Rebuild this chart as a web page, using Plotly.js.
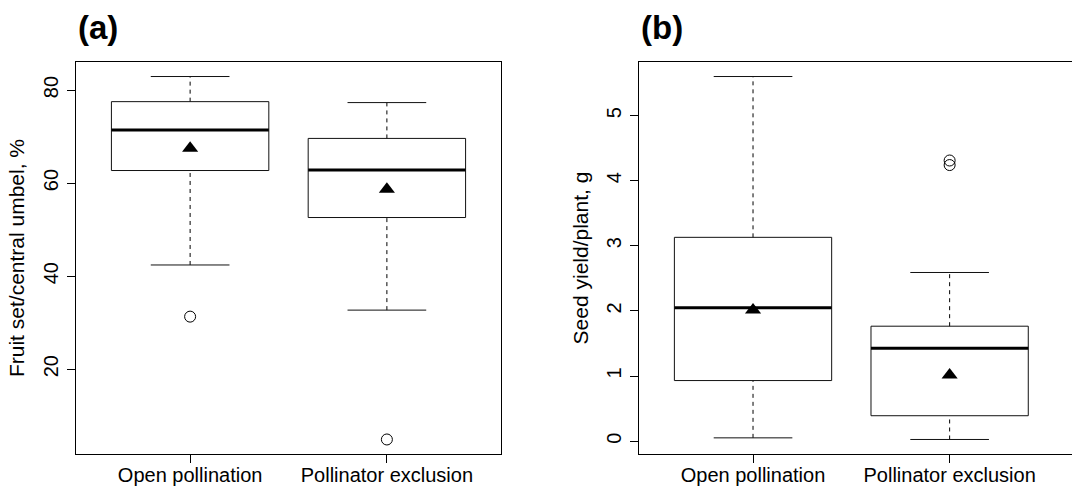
<!DOCTYPE html>
<html>
<head>
<meta charset="utf-8">
<script src="https://cdn.plot.ly/plotly-3.0.1.min.js"></script>
<style>
html,body{margin:0;padding:0;overflow:hidden;background:#fff;}
#chart{width:1085px;height:489px;}
</style>
</head>
<body>
<div id="chart"></div>
<script>
// ---- data ----
const groups = ['Open pollination', 'Pollinator exclusion'];

// (a) Fruit set / central umbel, %
const fruitQ1 = [62.7, 52.6];
const fruitMedian = [71.4, 62.8];
const fruitQ3 = [77.5, 69.6];
const fruitLowerWhisker = [42.4, 32.7];
const fruitUpperWhisker = [82.9, 77.3];
const fruitMean = [67.5, 58.7];
const fruitOutlierGroup = [1, 2];
const fruitOutliers = [31.3, 4.9];
const fruitTicks = [20, 40, 60, 80];

// (b) Seed yield / plant, g
const seedQ1 = [0.93, 0.39];
const seedMedian = [2.05, 1.425];
const seedQ3 = [3.13, 1.765];
const seedLowerWhisker = [0.05, 0.025];
const seedUpperWhisker = [5.6, 2.59];
const seedMean = [2.015, 1.015];
const seedOutlierGroup = [2, 2];
const seedOutliers = [4.31, 4.24];
const seedTicks = [0, 1, 2, 3, 4, 5];

// ---- drawing ----
const W = 1085, H = 489;
const FONT = 'Liberation Sans, Arial, Helvetica, sans-serif';
const HALF_BOX = 0.4, HALF_CAP = 0.2;

function panelTraces(xa, ya, q1, med, q3, lo, hi, mean, outG, outV) {
  const bx = [], by = [], mx = [], my = [], wx = [], wy = [], cx = [], cy = [];
  for (let i = 0; i < groups.length; i++) {
    const x = i + 1;
    bx.push(x - HALF_BOX, x + HALF_BOX, x + HALF_BOX, x - HALF_BOX, x - HALF_BOX, null);
    by.push(q1[i], q1[i], q3[i], q3[i], q1[i], null);
    mx.push(x - HALF_BOX, x + HALF_BOX, null);
    my.push(med[i], med[i], null);
    wx.push(x, x, null, x, x, null);
    wy.push(q3[i], hi[i], null, lo[i], q1[i], null);
    cx.push(x - HALF_CAP, x + HALF_CAP, null, x - HALF_CAP, x + HALF_CAP, null);
    cy.push(hi[i], hi[i], null, lo[i], lo[i], null);
  }
  const base = {xaxis: xa, yaxis: ya, mode: 'lines', hoverinfo: 'skip', showlegend: false};
  return [
    Object.assign({}, base, {x: wx, y: wy, line: {color: '#000', width: 1, dash: '4px,4px'}}),
    Object.assign({}, base, {x: cx, y: cy, line: {color: '#111', width: 1}}),
    Object.assign({}, base, {x: bx, y: by, line: {color: '#111', width: 1}}),
    Object.assign({}, base, {x: mx, y: my, line: {color: '#000', width: 3}}),
    {xaxis: xa, yaxis: ya, mode: 'markers', hoverinfo: 'skip', showlegend: false,
     x: groups.map((g, i) => i + 1), y: mean,
     marker: {symbol: 'triangle-up', size: 14, color: '#000', line: {width: 0}}},
    {xaxis: xa, yaxis: ya, mode: 'markers', hoverinfo: 'skip', showlegend: false,
     x: outG, y: outV,
     marker: {symbol: 'circle-open', size: 11, color: '#000', line: {width: 1, color: '#000'}}}
  ];
}

function rRange(arrs) {
  const all = [].concat(...arrs);
  const mn = Math.min(...all), mx = Math.max(...all);
  const d = (mx - mn) * 0.04;
  return [mn - d, mx + d];
}

const traces = [].concat(
  panelTraces('x', 'y', fruitQ1, fruitMedian, fruitQ3, fruitLowerWhisker, fruitUpperWhisker, fruitMean, fruitOutlierGroup, fruitOutliers),
  panelTraces('x2', 'y2', seedQ1, seedMedian, seedQ3, seedLowerWhisker, seedUpperWhisker, seedMean, seedOutlierGroup, seedOutliers)
);

const axisCommon = {
  showline: true, mirror: true, linecolor: '#000', linewidth: 1,
  ticks: 'outside', ticklen: 8, tickcolor: '#000', tickwidth: 1,
  showgrid: false, zeroline: false, fixedrange: true,
  tickfont: {family: FONT, size: 20, color: '#000'}
};
const yDom = [(H - 454) / H, (H - 62) / H];
const px = v => v / W;

const layout = {
  width: W, height: H,
  margin: {l: 0, r: 0, t: 0, b: 0},
  paper_bgcolor: '#fff', plot_bgcolor: '#fff',
  font: {family: FONT, color: '#000'},
  xaxis: Object.assign({}, axisCommon, {
    domain: [px(76), px(501)], range: [0.42, 2.58],
    tickvals: [1, 2], ticktext: groups, anchor: 'y', ticklabelstandoff: -5
  }),
  yaxis: Object.assign({}, axisCommon, {
    domain: yDom, range: rRange([fruitLowerWhisker, fruitUpperWhisker, fruitOutliers]),
    tickvals: fruitTicks, tickangle: -90, anchor: 'x', ticklabelstandoff: 1,
    title: {text: 'Fruit set/central umbel, %', font: {family: FONT, size: 21, color: '#000'}, standoff: 9}
  }),
  xaxis2: Object.assign({}, axisCommon, {
    domain: [px(639), px(1075)], range: [0.42, 0.42 + (1075 - 639) / 196.6],
    tickvals: [1, 2], ticktext: groups, anchor: 'y2', ticklabelstandoff: -5
  }),
  yaxis2: Object.assign({}, axisCommon, {
    domain: yDom, range: rRange([seedLowerWhisker, seedUpperWhisker, seedOutliers]),
    tickvals: seedTicks, tickangle: -90, anchor: 'x2', ticklabelstandoff: 1,
    title: {text: 'Seed yield/plant, g', font: {family: FONT, size: 21, color: '#000'}, standoff: 8}
  }),
  annotations: [
    {text: '<b>(a)</b>', xref: 'paper', yref: 'paper', x: px(76), y: 1 - 7 / H,
     xanchor: 'left', yanchor: 'top', showarrow: false, font: {family: FONT, size: 33, color: '#000'}},
    {text: '<b>(b)</b>', xref: 'paper', yref: 'paper', x: px(639), y: 1 - 7 / H,
     xanchor: 'left', yanchor: 'top', showarrow: false, font: {family: FONT, size: 33, color: '#000'}}
  ]
};

Plotly.newPlot('chart', traces, layout, {staticPlot: true, displayModeBar: false});
</script>
</body>
</html>
